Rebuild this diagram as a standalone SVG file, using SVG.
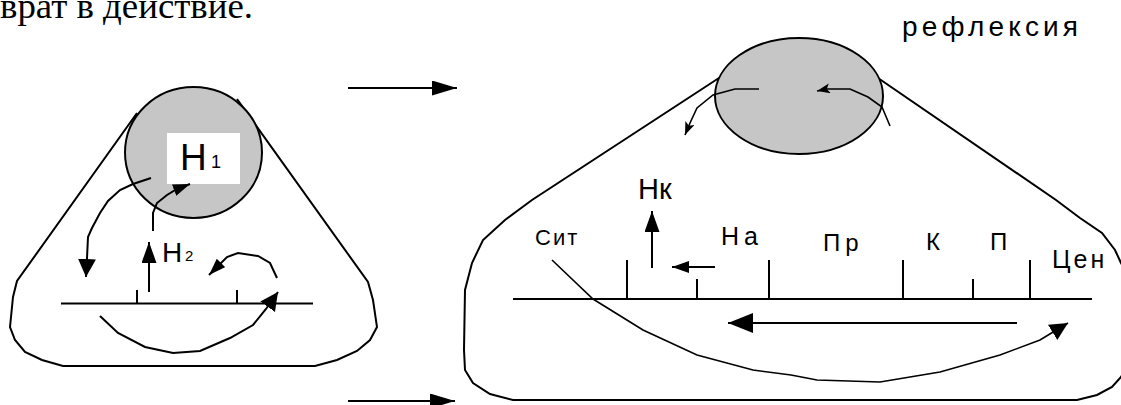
<svg xmlns="http://www.w3.org/2000/svg" width="1121" height="405" viewBox="0 0 1121 405">
<style>
.ln{fill:none;stroke:#000;stroke-width:2;stroke-linejoin:miter}
.thin{fill:none;stroke:#000;stroke-width:1.6}
.disc{fill:#c6c6c6;stroke:#000;stroke-width:2}
.sans{font-family:"Liberation Sans",Arial,sans-serif;fill:#000}
.serif{font-family:"Liberation Serif","Times New Roman",serif;fill:#000}
</style>
<defs>
<marker id="ahL" markerUnits="userSpaceOnUse" markerWidth="20" markerHeight="20" refX="18" refY="9" orient="auto"><path d="M0,0 L18,9 L0,18 z" fill="#000"/></marker>
<marker id="ahN" markerUnits="userSpaceOnUse" markerWidth="22" markerHeight="16" refX="21" refY="7.5" orient="auto"><path d="M0,0 L21,7.5 L0,15 z" fill="#000"/></marker>
<marker id="ahM" markerUnits="userSpaceOnUse" markerWidth="26" markerHeight="22" refX="25" refY="10" orient="auto"><path d="M0,0 L25,10 L0,20 z" fill="#000"/></marker>
<marker id="ahT" markerUnits="userSpaceOnUse" markerWidth="26" markerHeight="16" refX="25" refY="7.5" orient="auto"><path d="M0,0 L25,7.5 L0,15 z" fill="#000"/></marker>
<marker id="ahS" markerUnits="userSpaceOnUse" markerWidth="18" markerHeight="14" refX="17" refY="6" orient="auto"><path d="M0,0 L17,6 L0,12 z" fill="#000"/></marker>
<marker id="ahX" markerUnits="userSpaceOnUse" markerWidth="14" markerHeight="12" refX="13" refY="5" orient="auto"><path d="M0,0 L13,5 L0,10 L3,5 z" fill="#000"/></marker>
</defs>

<text class="serif" x="0" y="18" font-size="36" textLength="253" lengthAdjust="spacingAndGlyphs">врат в действие.</text>

<g id="left-figure">
<path class="ln" d="M137,113 L17,281 L13,297 L10,327 L15,340 L25,352 L42,360 L63,366 L315,366 L337,360 L357,351 L370,340 L377,327 L373,300 L368,282 L237,99"/>
<ellipse class="disc" cx="193.5" cy="152.5" rx="68.5" ry="65.5"/>
<rect x="167" y="133" width="73" height="51" fill="#fff"/>
<text class="sans" x="180" y="170" font-size="37">Н</text>
<text class="sans" x="211" y="168" font-size="18">1</text>
</g>

<g id="left-scale">
<path class="ln" d="M61,303.5 H313 M137,290 V304 M237,290 V304"/>
<text class="sans" x="162" y="262" font-size="28">Н</text>
<text class="sans" x="185" y="261" font-size="15">2</text>
</g>

<g id="right-figure">
<path class="ln" d="M722,76 L532,200 L505,220 L483,240 L472,263 L465,290 L464,350 L465,370 L473,383 L490,394 L513,400 L1077,400 L1097,395 L1112,387 L1121,377 L1125,370 L1125,270 L1121,263 L1115,250 L1102,233 L1080,218 L1056,200 L878,78"/>
<ellipse class="disc" cx="799" cy="96" rx="84" ry="58"/>
<text class="sans" x="902" y="36" font-size="28" textLength="176" lengthAdjust="spacing">рефлексия</text>
</g>

<g id="right-scale">
<path class="ln" d="M513,299 H1092 M627,260 V299 M697,279 V299 M769,260 V299 M903,260 V299 M973,279 V299 M1030,260 V299"/>
<text class="sans" x="638" y="199" font-size="29">Нк</text>
<text class="sans" x="535" y="245" font-size="22" letter-spacing="2">Сит</text>
<text class="sans" x="721" y="245" font-size="25" letter-spacing="5">На</text>
<text class="sans" x="823" y="251" font-size="24" letter-spacing="5">Пр</text>
<text class="sans" x="926" y="250" font-size="24">К</text>
<text class="sans" x="990" y="250" font-size="24">П</text>
<text class="sans" x="1052" y="268" font-size="25" letter-spacing="3">Цен</text>
</g>

<g id="connectors">
<path class="ln" d="M149,292 V242" marker-end="url(#ahN)"/>
<path class="ln" d="M153,231 L153,213 L157,203 L167,195 L177,189 L190,184" marker-end="url(#ahS)"/>
<path class="ln" d="M151,178 L133,184 L120,190 L108,201 L100,213 L92,228 L88,237 L87,258 L86,277" marker-end="url(#ahL)"/>
<path class="ln" d="M277,278 L270,263 L258,256 L238,253 L227,257 L209,275" marker-end="url(#ahS)"/>
<path class="ln" d="M100,316 L118,333 L145,347 L173,353 L200,351 L230,338 L253,325 L266,309 L278,292" marker-end="url(#ahL)"/>
<path class="ln" d="M348,88 H457" marker-end="url(#ahT)"/>
<path class="ln" d="M348,401 H455" marker-end="url(#ahT)"/>
<path class="thin" d="M759,89 L735,89 L713,95 L697,108 L690,123 L685,135" marker-end="url(#ahX)"/>
<path class="thin" d="M890,126 L882,107 L868,97 L850,89 L827,89 L817,91" marker-end="url(#ahX)"/>
<path class="ln" d="M652,268 V211" marker-end="url(#ahN)"/>
<path class="ln" d="M715,267 H672" marker-end="url(#ahS)"/>
<path class="ln" d="M1017,323 H728" marker-end="url(#ahM)"/>
<path class="thin" d="M552,260 L593,299 L643,330 L697,355 L753,370 L791,375 L817,380 L880,382 L940,372 L1000,355 L1040,340 L1068,323" marker-end="url(#ahL)"/>
</g>
</svg>
